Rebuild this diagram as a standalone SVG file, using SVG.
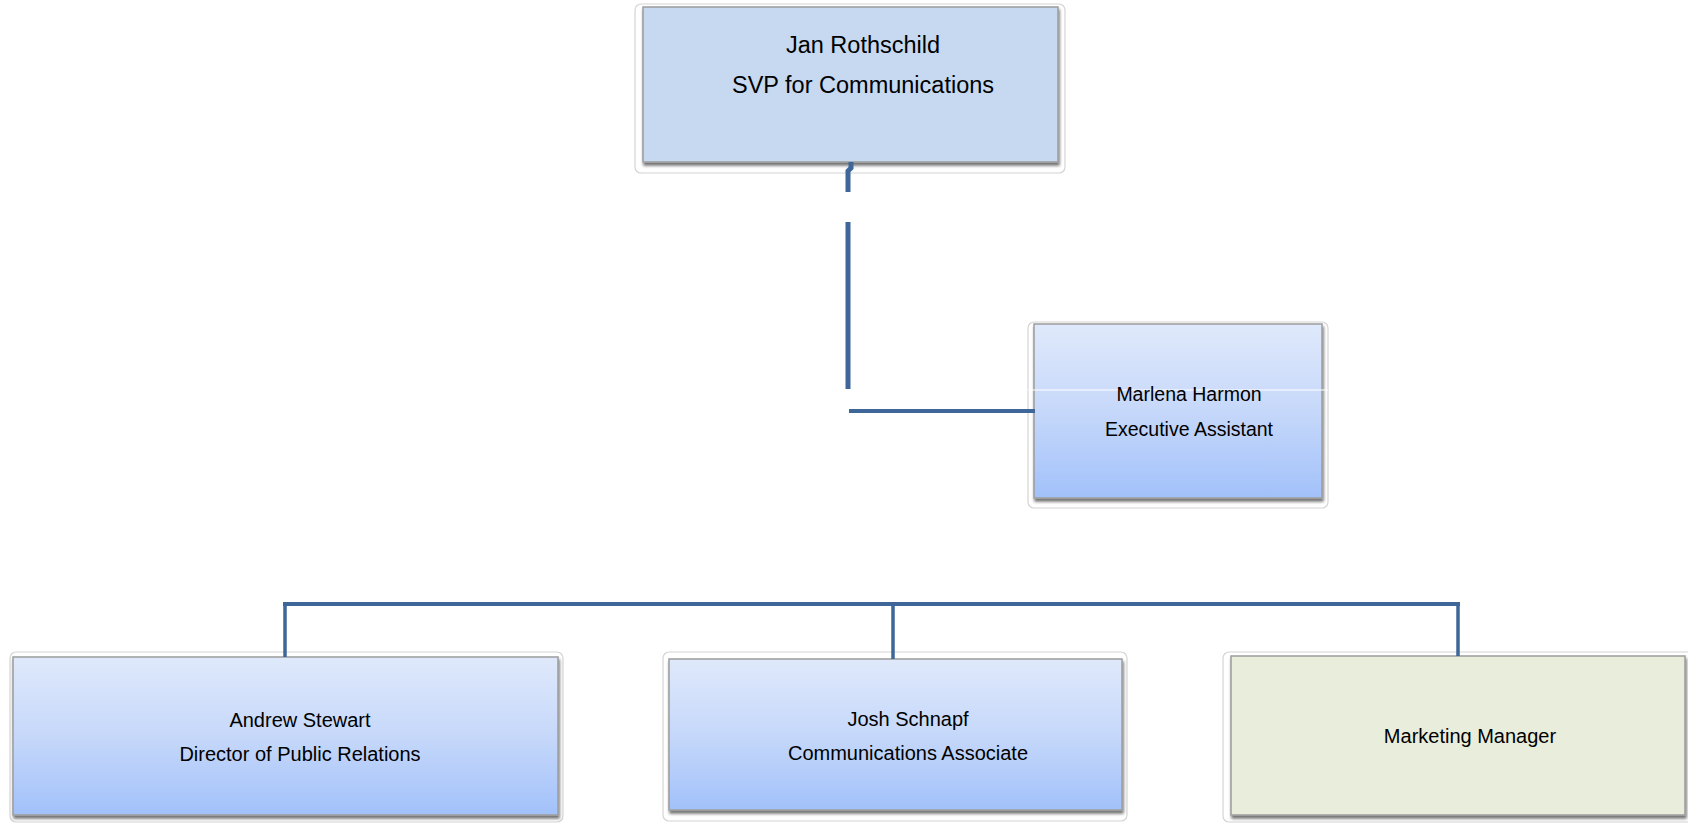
<svg xmlns="http://www.w3.org/2000/svg" width="1688" height="823" viewBox="0 0 1688 823">
  <defs>
    <linearGradient id="blueGrad" x1="0" y1="0" x2="0" y2="1">
      <stop offset="0" stop-color="#DFE9FB"/>
      <stop offset="0.5" stop-color="#C6D8FA"/>
      <stop offset="1" stop-color="#A2C1FA"/>
    </linearGradient>
    <filter id="shadow" x="-5%" y="-5%" width="110%" height="115%">
      <feGaussianBlur in="SourceAlpha" stdDeviation="1.5"/>
      <feOffset dx="1" dy="2.5" result="o"/>
      <feComponentTransfer><feFuncA type="linear" slope="0.55"/></feComponentTransfer>
      <feMerge><feMergeNode/><feMergeNode in="SourceGraphic"/></feMerge>
    </filter>
  </defs>
  <style>
    .frame { fill: #ffffff; stroke: #d4d4d4; stroke-width: 1.2; }
    .box { stroke: #9c9c9c; stroke-width: 1.5; filter: url(#shadow); }
    .blue { fill: url(#blueGrad); }
    .top { fill: #C6D9F0; }
    .green { fill: #E9EDDC; }
    .lbl { font-family: "Liberation Sans", Arial, sans-serif; fill: #000000; text-anchor: middle; }
    .big { font-size: 23.5px; }
    .mid { font-size: 19.5px; }
    .sm { font-size: 20px; }
    .conn { stroke: #3F6699; fill: none; }
  </style>
  <rect width="1688" height="823" fill="#ffffff"/>

  <g id="node-jan">
    <rect class="frame" x="635" y="4" width="430" height="169" rx="6"/>
    <rect class="box top" x="643" y="7" width="415" height="155"/>
    <text class="lbl big" x="863" y="53">Jan Rothschild</text>
    <text class="lbl big" x="863" y="93">SVP for Communications</text>
  </g>

  <g id="node-marlena">
    <rect class="frame" x="1028" y="322" width="300" height="186" rx="6"/>
    <rect class="box blue" x="1034" y="324" width="288" height="174"/>
    <line x1="1028" y1="390" x2="1328" y2="390" stroke="#ffffff" stroke-width="1.2"/>
    <text class="lbl mid" x="1189" y="401">Marlena Harmon</text>
    <text class="lbl mid" x="1189" y="436">Executive Assistant</text>
  </g>

  <g id="node-andrew">
    <rect class="frame" x="10" y="652" width="553" height="170" rx="6"/>
    <rect class="box blue" x="13" y="657" width="545" height="158"/>
    <text class="lbl sm" x="300" y="727">Andrew Stewart</text>
    <text class="lbl sm" x="300" y="761">Director of Public Relations</text>
  </g>

  <g id="node-josh">
    <rect class="frame" x="663" y="652" width="464" height="169" rx="6"/>
    <rect class="box blue" x="669" y="659" width="453" height="151"/>
    <text class="lbl sm" x="908" y="726">Josh Schnapf</text>
    <text class="lbl sm" x="908" y="760">Communications Associate</text>
  </g>

  <g id="node-marketing">
    <rect class="frame" x="1223" y="652" width="475" height="170" rx="6"/>
    <rect class="box green" x="1231" y="656" width="454" height="159"/>
    <text class="lbl sm" x="1470" y="743">Marketing Manager</text>
  </g>

  <g id="connectors">
    <path class="conn" stroke-width="5" d="M851,162 L851,168 L848,171 L848,192"/>
    <line class="conn" stroke-width="5" x1="848" y1="222" x2="848" y2="389"/>
    <line class="conn" stroke-width="4" x1="849" y1="411" x2="1035" y2="411"/>
    <line class="conn" stroke-width="4" x1="283" y1="604" x2="1460" y2="604"/>
    <line class="conn" stroke-width="3.5" x1="285" y1="604" x2="285" y2="657"/>
    <line class="conn" stroke-width="3.5" x1="893" y1="604" x2="893" y2="659"/>
    <line class="conn" stroke-width="3.5" x1="1458" y1="604" x2="1458" y2="656"/>
  </g>
</svg>
